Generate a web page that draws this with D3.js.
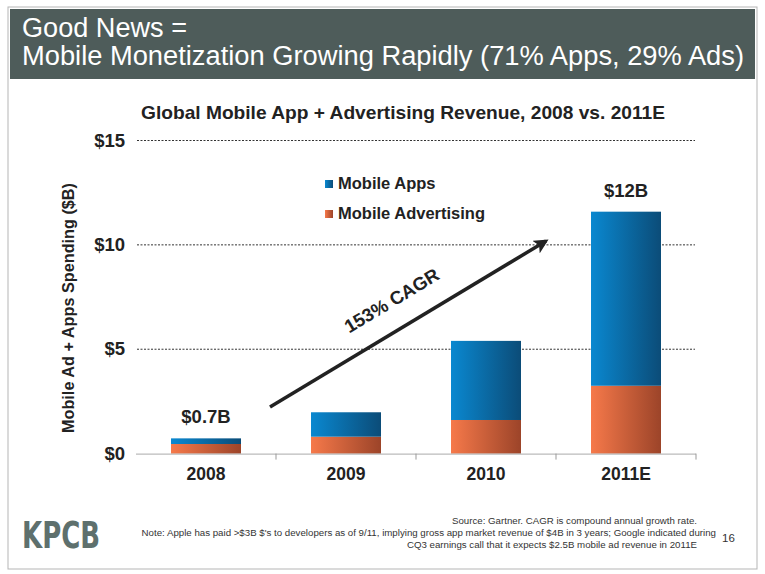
<!DOCTYPE html>
<html><head><meta charset="utf-8">
<script src="https://cdn.jsdelivr.net/npm/d3@7"></script>
<style>body{margin:0;background:#fff}svg{display:block}</style>
</head><body>
<script>
const categories = ["2008","2009","2010","2011E"];
const adValues   = [0.46, 0.81, 1.61, 3.25];
const appValues  = [0.27, 1.17, 3.79, 8.34];
const yTicks     = [0, 5, 10, 15];
const tickLabels = ["$0","$5","$10","$15"];
const seriesNames = ["Mobile Apps","Mobile Advertising"];
const totalLabels = [{cat:"2008", text:"$0.7B"},{cat:"2011E", text:"$12B"}];

const W = 765, H = 574;
const svg = d3.select("body").append("svg").attr("width", W).attr("height", H);
const font = "'Liberation Sans', Arial, Helvetica, sans-serif";

const defs = svg.append("defs");
function grad(id, c1, c2){
  const g = defs.append("linearGradient").attr("id", id).attr("x1","0%").attr("x2","100%").attr("y1","0%").attr("y2","0%");
  g.append("stop").attr("offset","0%").attr("stop-color", c1);
  g.append("stop").attr("offset","100%").attr("stop-color", c2);
}
grad("gBlue", "#0a88d0", "#0b4c78");
grad("gOrange", "#f6794a", "#9c4429");
const marker = defs.append("marker").attr("id","arrow").attr("viewBox","0 0 10 10").attr("refX",8).attr("refY",5)
  .attr("markerWidth",4.2).attr("markerHeight",4.2).attr("orient","auto");
marker.append("path").attr("d","M0,0 L10,5 L0,10 L2.5,5 Z").attr("fill","#222");

// slide frame
svg.append("rect").attr("x",8).attr("y",7).attr("width",749).attr("height",562).attr("fill","none").attr("stroke","#b5b5b5").attr("stroke-width",1);
// header
svg.append("rect").attr("x",10).attr("y",9).attr("width",745).attr("height",70).attr("fill","#4e5c5a");
svg.append("text").attr("x",22).attr("y",37).attr("fill","#fff").attr("font-family",font).attr("font-size",27)
  .attr("textLength",165).attr("lengthAdjust","spacingAndGlyphs").text("Good News =");
svg.append("text").attr("x",22).attr("y",65).attr("fill","#fff").attr("font-family",font).attr("font-size",27)
  .attr("textLength",722).attr("lengthAdjust","spacingAndGlyphs").text("Mobile Monetization Growing Rapidly (71% Apps, 29% Ads)");

// chart title
svg.append("text").attr("x",403).attr("y",119).attr("text-anchor","middle").attr("fill","#222")
  .attr("font-family",font).attr("font-weight","bold").attr("font-size",18.5)
  .attr("textLength",524).attr("lengthAdjust","spacingAndGlyphs").text("Global Mobile App + Advertising Revenue, 2008 vs. 2011E");

const x = d3.scaleBand().domain(categories).range([136, 696]).paddingInner(0.5).paddingOuter(0.25);
const y = d3.scaleLinear().domain([0, 15]).range([453.6, 140.5]);

// gridlines
svg.append("g").selectAll("line").data(yTicks.filter(d => d > 0)).join("line")
  .attr("x1",137).attr("x2",695).attr("y1",d=>y(d)).attr("y2",d=>y(d))
  .attr("stroke","#333").attr("stroke-width",1).attr("stroke-dasharray","2,1.5");

// y tick labels
svg.append("g").selectAll("text").data(yTicks).join("text")
  .attr("x",125).attr("y",d=>y(d)+6).attr("text-anchor","end").attr("fill","#222")
  .attr("font-family",font).attr("font-weight","bold").attr("font-size",18.5)
  .text((d,i)=>tickLabels[i]);

// y axis title
svg.append("text").attr("transform","translate(74,308) rotate(-90)").attr("text-anchor","middle").attr("fill","#222")
  .attr("font-family",font).attr("font-weight","bold").attr("font-size",16.5)
  .attr("textLength",250).attr("lengthAdjust","spacingAndGlyphs").text("Mobile Ad + Apps Spending ($B)");

// bars
const stacked = categories.map((c,i)=>({cat:c, ad:adValues[i], app:appValues[i]}));
const gb = svg.append("g");
gb.selectAll("rect.ad").data(stacked).join("rect").attr("class","ad")
  .attr("x",d=>x(d.cat)).attr("width",x.bandwidth())
  .attr("y",d=>y(d.ad)).attr("height",d=>y(0)-y(d.ad)).attr("fill","url(#gOrange)");
gb.selectAll("rect.app").data(stacked).join("rect").attr("class","app")
  .attr("x",d=>x(d.cat)).attr("width",x.bandwidth())
  .attr("y",d=>y(d.ad+d.app)).attr("height",d=>y(d.ad)-y(d.ad+d.app)).attr("fill","url(#gBlue)");

// x axis
const xa = svg.append("g");
xa.append("line").attr("x1",136).attr("x2",696).attr("y1",y(0)+0.5).attr("y2",y(0)+0.5).attr("stroke","#aaa").attr("stroke-width",1);
const bounds = categories.slice(1).map(c => x(c) - x.step()*0.25);
bounds.push(696);
xa.selectAll("line.tk").data(bounds).join("line").attr("class","tk")
  .attr("x1",d=>d).attr("x2",d=>d).attr("y1",y(0)).attr("y2",y(0)+6).attr("stroke","#999");
xa.selectAll("text").data(categories).join("text")
  .attr("x",d=>x(d)+x.bandwidth()/2).attr("y",480).attr("text-anchor","middle").attr("fill","#222")
  .attr("font-family",font).attr("font-weight","bold").attr("font-size",17.5).text(d=>d);

// total labels
svg.append("g").selectAll("text").data(totalLabels).join("text")
  .attr("x",d=>x(d.cat)+x.bandwidth()/2)
  .attr("y",d=>{const i=categories.indexOf(d.cat); return y(adValues[i]+appValues[i]) - 15;})
  .attr("text-anchor","middle").attr("fill","#222").attr("font-family",font).attr("font-weight","bold").attr("font-size",18.5)
  .text(d=>d.text);

// legend
const lg = svg.append("g");
const legendColors = ["url(#gBlue)","url(#gOrange)"];
seriesNames.forEach((n,i)=>{
  lg.append("rect").attr("x",325).attr("y",180+i*30).attr("width",8).attr("height",8).attr("fill",legendColors[i]);
  lg.append("text").attr("x",338).attr("y",189+i*30).attr("fill","#222").attr("font-family",font)
    .attr("font-weight","bold").attr("font-size",16.5).text(n);
});

// CAGR arrow
svg.append("line").attr("x1",270).attr("y1",407).attr("x2",546).attr("y2",241)
  .attr("stroke","#222").attr("stroke-width",3.5).attr("marker-end","url(#arrow)");
svg.append("text").attr("transform","translate(395,306) rotate(-31)").attr("text-anchor","middle").attr("fill","#222")
  .attr("font-family",font).attr("font-weight","bold").attr("font-size",18.5).text("153% CAGR");

// footer
svg.append("text").attr("x",22).attr("y",548).attr("fill","#5e706d").attr("font-family","'Liberation Sans Narrow','DejaVu Sans Condensed',Arial,sans-serif")
  .attr("font-weight","bold").attr("font-size",37).attr("textLength",78).attr("lengthAdjust","spacingAndGlyphs").text("KPCB");
const foot = [
  {t:"Source: Gartner. CAGR is compound annual growth rate.", x:697, y:524},
  {t:"Note: Apple has paid >$3B $'s to developers as of 9/11, implying gross app market revenue of $4B in 3 years; Google indicated during", x:716, y:536},
  {t:"CQ3 earnings call that it expects $2.5B mobile ad revenue in 2011E", x:697, y:548}
];
svg.append("g").selectAll("text").data(foot).join("text")
  .attr("x",d=>d.x).attr("y",d=>d.y).attr("text-anchor","end").attr("fill","#333")
  .attr("font-family",font).attr("font-size",9.7).text(d=>d.t);
svg.append("text").attr("x",722).attr("y",542).attr("fill","#333").attr("font-family",font).attr("font-size",11.5).text("16");
</script>
</body></html>
